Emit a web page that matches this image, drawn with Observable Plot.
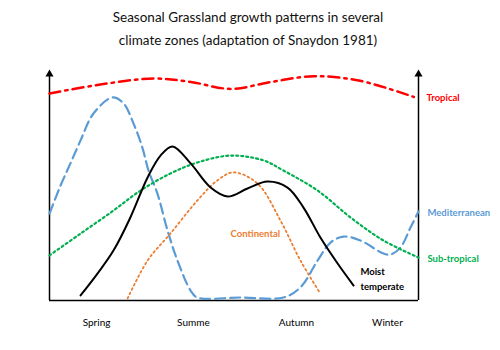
<!DOCTYPE html>
<html><head><meta charset="utf-8">
<script src="https://cdn.jsdelivr.net/npm/d3@7"></script>
<script src="https://cdn.jsdelivr.net/npm/@observablehq/plot@0.6"></script>
<style>
body{margin:0;background:#fff;font-family:Lato,"Open Sans",sans-serif;}
#title{width:496px;height:58px;box-sizing:border-box;padding-top:6px;text-align:center;font-size:13.5px;line-height:23px;color:#111;}
</style>
</head><body>
<div id="title">Seasonal Grassland growth patterns in several<br>climate zones (adaptation of Snaydon 1981)</div>
<div id="chart"></div>
<script>
// season tick labels and their positions along the year axis (0..12)
const seasons = ["Spring", "Summe", "Autumn", "Winter"];
const seasonX = [1.53, 4.68, 8.03, 10.99];

// Tropical
const tropX = [0, 1.7, 3.4, 4.6, 5.9, 7.2, 8.6, 10.1, 11.85];
const tropY = [90, 94, 96.5, 95, 92, 95, 97.5, 95.5, 88.5];
// Mediterranean
const medX = [0, 0.36, 0.68, 1.01, 1.43, 2.05, 2.41, 2.73, 3.02, 3.22, 3.51, 3.84, 4.16, 4.59, 4.81, 6.2, 7.61, 8.16, 8.72, 9.14, 9.56, 10.11, 10.86, 11.09, 11.41, 11.74, 12];
const medY = [37.8, 50, 59.6, 69.6, 81.3, 88.3, 85.7, 77, 66.5, 56.5, 46.5, 30.4, 17.4, 4.3, 1.3, 1.3, 1.3, 5.7, 17.4, 25.2, 27.8, 26.1, 20.4, 20, 23, 31.7, 38.7];
// Moist temperate
const moistX = [1.01, 1.56, 2.08, 2.63, 3.19, 3.61, 4.0, 4.59, 5.24, 5.79, 6.44, 7.09, 7.74, 8.26, 8.81, 9.37, 9.89];
const moistY = [2.2, 11.7, 21.7, 36.1, 53.5, 63, 67, 59.6, 49.1, 45.2, 48.7, 51.7, 49.1, 40.4, 27.4, 16.1, 6.5];
// Sub-tropical
const subX = [0, 1.01, 2.08, 2.96, 3.93, 4.81, 5.89, 6.96, 7.61, 8.72, 9.79, 10.86, 12];
const subY = [19.6, 29.1, 39.1, 47.8, 55.2, 60, 63, 60.9, 56.5, 47.8, 36.1, 26.1, 18.7];
// Continental
const contX = [2.54, 3.19, 3.93, 4.81, 5.46, 5.98, 6.76, 7.51, 8.16, 8.81];
const contY = [0.9, 17.4, 29.1, 43.5, 52.2, 55.7, 50.9, 34.8, 17.4, 3.0];

// series labels
const labelNames = ["Tropical", "Mediterranean", "Sub-tropical", "Continental", "Moist\ntemperate"];
const labelX = [12.26, 12.29, 12.29, 5.89, 10.11];
const labelY = [88.7, 38.7, 18.7, 29.6, 10];

const pts = (xs, ys) => xs.map((x, i) => ({x, y: ys[i]}));
const colors = ["#FF0000", "#5B9BD5", "#00B050", "#ED7D31", "#000000"];
const labels = labelNames.map((t, i) => ({t, x: labelX[i], y: labelY[i], c: colors[i]}));
const sides = [0, 12];

const chart = Plot.plot({
  width: 500,
  height: 292,
  marginTop: 12,
  marginBottom: 50,
  marginLeft: 49,
  marginRight: 82,
  x: {domain: [0, 12]},
  y: {domain: [0, 100], axis: null},
  style: {fontFamily: "Lato, 'Open Sans', sans-serif", background: "#fff"},
  marks: [
    Plot.ruleY([0], {x1: 0, x2: 12, stroke: "#000", strokeWidth: 1.5}),
    Plot.ruleX(sides, {y1: 0, y2: 98.4, stroke: "#000", strokeWidth: 1.5}),
    Plot.dot(sides, {x: d => d, y: () => 98.4, symbol: "triangle", r: 3, fill: "#000", stroke: null}),
    Plot.line(pts(tropX, tropY), {x: "x", y: "y", curve: "catmull-rom", stroke: colors[0], strokeWidth: 2.5, strokeDasharray: "11,5,2.5,5"}),
    Plot.line(pts(medX, medY), {x: "x", y: "y", curve: "catmull-rom", stroke: colors[1], strokeWidth: 2.2, strokeDasharray: "10,5"}),
    Plot.line(pts(subX, subY), {x: "x", y: "y", curve: "catmull-rom", stroke: colors[2], strokeWidth: 2.2, strokeDasharray: "2,3"}),
    Plot.line(pts(contX, contY), {x: "x", y: "y", curve: "catmull-rom", stroke: colors[3], strokeWidth: 1.8, strokeDasharray: "1.8,3"}),
    Plot.line(pts(moistX, moistY), {x: "x", y: "y", curve: "catmull-rom", stroke: colors[4], strokeWidth: 2}),
    Plot.text(labels, {x: "x", y: "y", text: "t", fill: "c", fontWeight: "bold", fontSize: 9.5, textAnchor: "start", lineHeight: 1.55, clip: false}),
    Plot.axisX(seasonX, {tickSize: 0, tickPadding: 18, fontSize: 10, label: null, tickFormat: d => seasons[seasonX.indexOf(d)]})
  ]
});
document.getElementById("chart").appendChild(chart);
</script>
</body></html>
